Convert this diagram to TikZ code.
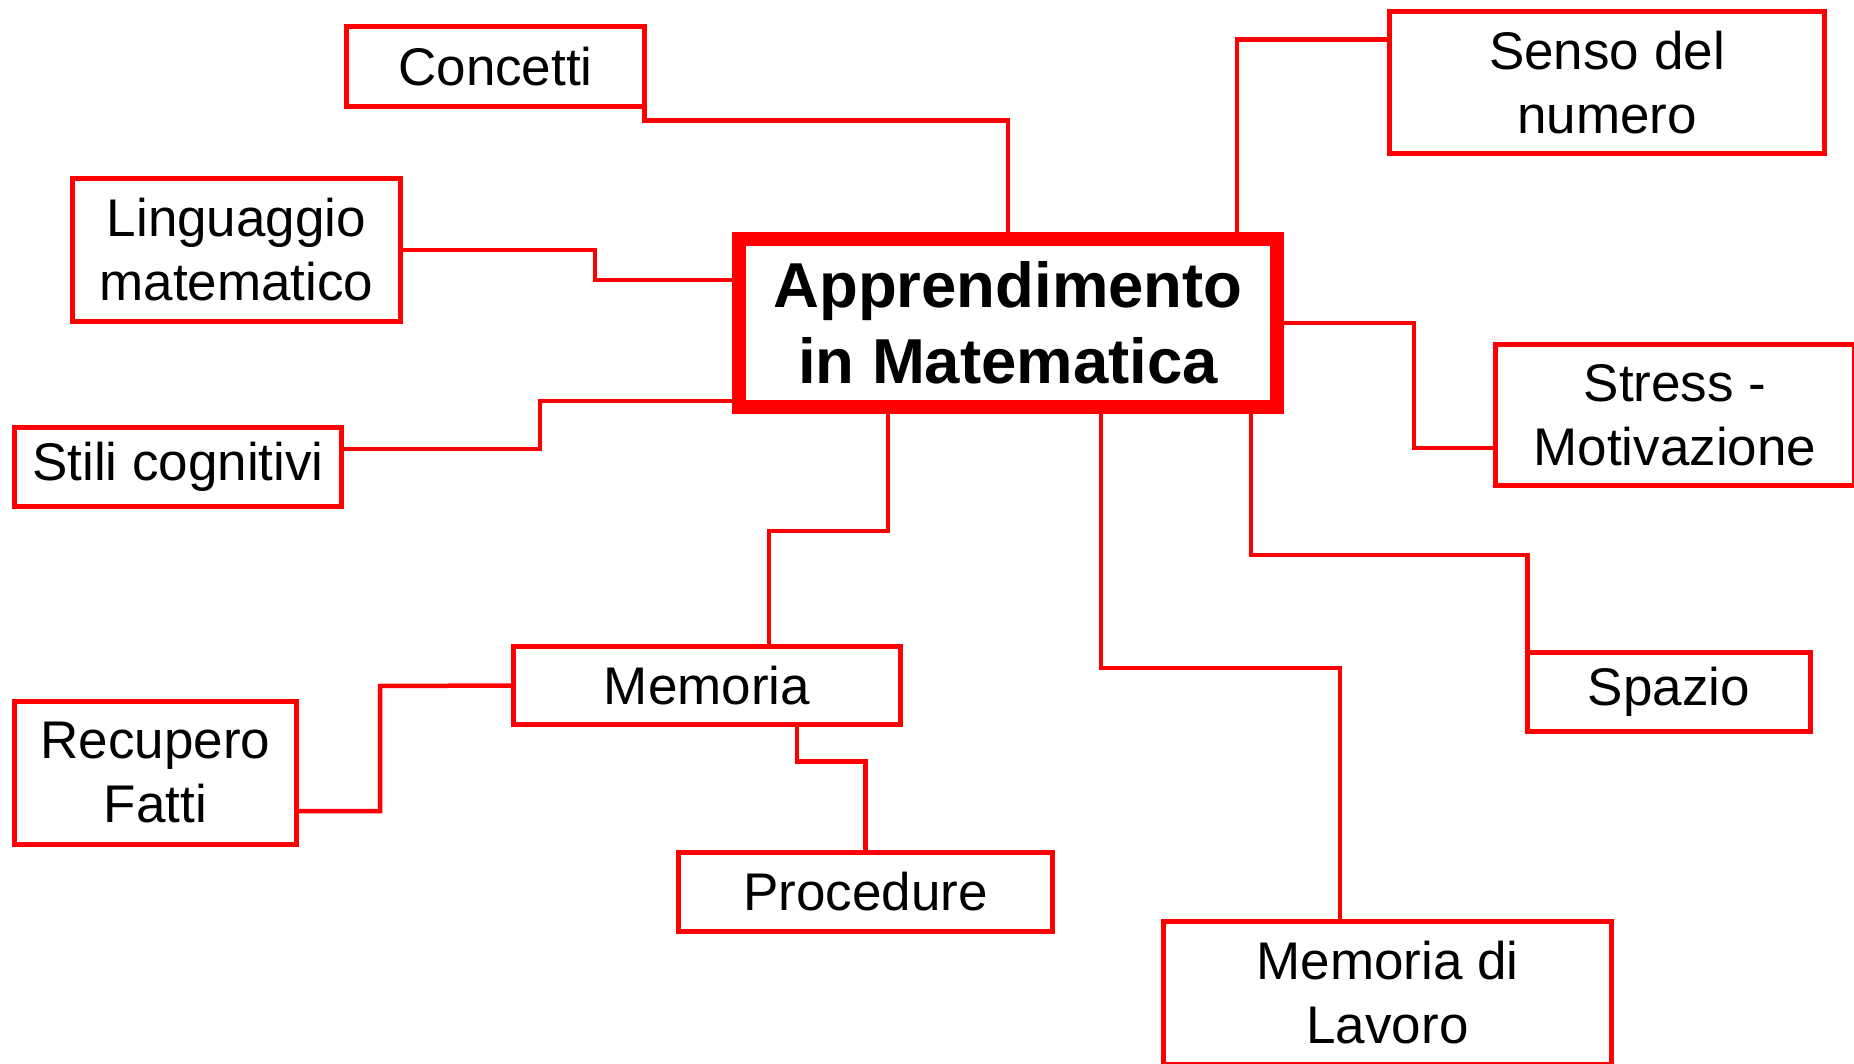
\documentclass[tikz,border=0pt]{standalone}
\usepackage{fontspec}
\setmainfont{Liberation Sans}
\usepackage{tikz}
\pgfdeclarelayer{bg}
\pgfsetlayers{bg,main}
\tikzset{
    box/.style 2 args={rectangle, draw=red, line width=5pt, fill=white, inner sep=0pt, outer sep=0pt,
        minimum width=#1pt, minimum height=#2pt, align=center, font=\fontsize{53}{64}\selectfont},
    mainbox/.style={box={538}{168}, line width=14pt, font=\fontsize{63.5}{76}\selectfont\bfseries},
    link/.style={draw=red, line width=4.5pt}
}

\begin{document}
\begin{tikzpicture}[x=1pt, y=-1pt]
        \useasboundingbox (0,0) rectangle (1854,1064);
        \node (app) [mainbox] at (1008,323) {Apprendimento\\in Matematica};
        \node (conc) [box={298}{80}] at (495.5,66.5) {Concetti};
        \node (ling) [box={328}{143}] at (236.5,250) {Linguaggio\\matematico};
        \node (stili) [box={327}{79}] at (178,467) {Stili cognitivi};
        \node (senso) [box={435}{142}] at (1607,82.5) {Senso del\\numero};
        \node (stress) [box={359}{141}] at (1675,415) {Stress -\\Motivazione};
        \node (spazio) [box={283}{79}] at (1669,692) {Spazio};
        \node (mem) [box={387}{78}] at (707,685.5) {Memoria};
        \node (rec) [box={282}{143}] at (155.5,773) {Recupero\\Fatti};
        \node (proc) [box={374}{79}] at (865.5,892) {Procedure};
        \node (mdl) [box={448}{143}] at (1387.5,993) {Memoria di\\Lavoro};
        \begin{pgfonlayer}{bg}
                \draw [link] (conc.south east) -- ++(0,14) -| (app.north);
                \draw [link] (ling.east) -- (595,250) |- ([yshift=43pt]app.west);
                \draw [link] ([yshift=18pt]stili.east) -- (540,449) |- ([yshift=-78pt]app.west);
                \draw [link] ([xshift=229pt]app.north) |- ([yshift=43pt]senso.west);
                \draw [link] (app.east) -- (1414,323) |- ([yshift=-33pt]stress.west);
                \draw [link] ([xshift=243pt]app.south) |- (1527.5,555) -- (spazio.north west);
                \draw [link] ([xshift=93pt]app.south) |- (1340,668) -- ([xshift=-47.5pt]mdl.north);
                \draw [link] ([xshift=-120pt]app.south) |- (769,531) -- ([xshift=62pt]mem.north);
                \draw [link] (mem.west) -- (380,686) |- ([yshift=-38pt]rec.east);
                \draw [link] ([xshift=90pt]mem.south) -- ++(0,37) -| (proc.north);
        \end{pgfonlayer}
\end{tikzpicture}
\end{document}
